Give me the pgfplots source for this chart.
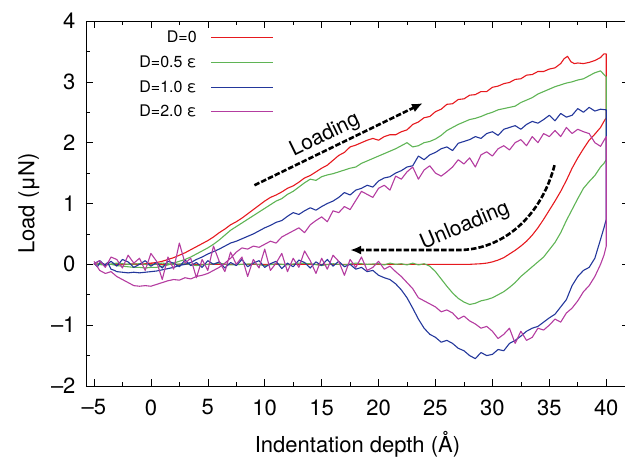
\documentclass[border=0pt]{standalone}
\usepackage{pgfplots}
\pgfplotsset{compat=1.18}
\usepackage{fontspec}
\setmainfont{TeX Gyre Heros}
\usetikzlibrary{arrows.meta}
\definecolor{cred}{RGB}{230,25,30}
\definecolor{cgreen}{RGB}{95,180,85}
\definecolor{cblue}{RGB}{35,55,155}
\definecolor{cmag}{RGB}{180,60,160}
\begin{document}
\begin{tikzpicture}
\useasboundingbox (-86pt,-72pt) rectangle (539pt,386pt);
\begin{axis}[
  at={(0pt,0pt)}, anchor=south west,
  scale only axis, width=543pt, height=365pt,
  xmin=-5.7, xmax=42, ymin=-2, ymax=4,
  xtick={-5,0,...,40}, xticklabels={–5,0,5,10,15,20,25,30,35,40},
  ytick={-2,-1,...,4}, yticklabels={–2,–1,0,1,2,3,4},
  minor x tick num=1, minor y tick num=1,
  tick align=inside, major tick length=7pt, minor tick length=4pt,
  tick style={black, line width=0.6pt},
  axis line style={line width=0.8pt},
  ticklabel style={font=\fontsize{22}{26}\selectfont},
  xticklabel style={yshift=-10pt},
  yticklabel style={xshift=-7pt},
  xlabel={Indentation depth (Å)},
  ylabel={Load (μN)},
  every axis x label/.style={at={(axis description cs:0.5,-0.159)}, anchor=center, font=\fontsize{22}{26}\selectfont},
  every axis y label/.style={at={(axis description cs:-0.105,0.5)}, rotate=90, anchor=center, font=\fontsize{22}{26}\selectfont},
  legend cell align=right, legend plot pos=right,
  legend image code/.code={\draw[#1, line width=1.1pt] (0pt,0pt) -- (62pt,0pt);},
  legend style={draw=none, fill=none, font=\fontsize{16}{18}\selectfont,
    at={(axis description cs:0.3462,0.9726)}, anchor=north east,
    inner sep=0pt, row sep=11.5pt, column sep=14pt, nodes={inner sep=0pt}},
  every axis plot/.append style={line width=1.1pt, line join=round},
]
% D = 0 : loading, drop at 40, unloading
\addplot[cred] coordinates {
(-5,0.00)(-4.5,0.01)(-4,0.00)(-3.5,0.00)(-3,0.01)(-2.5,0.00)(-2,0.00)(-1.5,0.01)(-1,0.00)(-0.5,0.01)
(0,0.02)(0.5,0.03)(1,0.05)(1.5,0.08)(2,0.11)(2.5,0.15)(3,0.19)(3.5,0.24)(4,0.29)(4.5,0.34)
(5,0.39)(5.5,0.45)(6,0.52)(6.5,0.58)(7,0.65)(7.5,0.70)(8,0.76)(8.5,0.83)(9,0.90)(9.5,0.97)
(10,1.04)(10.5,1.10)(11,1.14)(11.5,1.19)(12,1.25)(12.5,1.29)(13,1.35)(13.5,1.42)(14,1.46)(14.5,1.52)
(15,1.58)(15.5,1.63)(16,1.71)(16.5,1.79)(17,1.84)(17.5,1.93)(18,1.96)(18.5,2.00)(19,2.04)(19.5,2.07)
(20,2.04)(20.5,2.10)(21,2.13)(21.5,2.13)(22,2.18)(22.5,2.21)(23,2.30)(23.5,2.34)(24,2.41)(24.5,2.43)
(25,2.51)(25.5,2.55)(26,2.63)(26.5,2.64)(27,2.71)(27.5,2.72)(28,2.78)(28.5,2.79)(29,2.84)(29.5,2.84)
(30,2.91)(30.5,2.93)(31,2.97)(31.5,2.99)(32,3.04)(32.5,3.05)(33,3.11)(33.5,3.12)(34,3.17)(34.5,3.17)
(35,3.21)(35.5,3.23)(36,3.30)(36.3,3.38)(36.6,3.42)(36.9,3.33)(37.2,3.30)(37.5,3.31)(38,3.30)(38.5,3.32)
(39,3.35)(39.5,3.40)(39.8,3.46)(40,3.46)
(40,2.41)(39.8,2.35)(39.5,2.25)(39,2.14)(38.5,2.04)(38,1.90)(37.5,1.75)(37,1.58)(36.5,1.38)(36,1.20)
(35.5,1.04)(35,0.89)(34.5,0.74)(34,0.60)(33.5,0.48)(33,0.38)(32.5,0.30)(32,0.23)(31.5,0.17)(31,0.11)
(30.5,0.07)(30,0.04)(29.5,0.02)(29,0.01)(28,0.00)(-5,0.00)
};
\addlegendentry{D=0}
% D = 0.5 eps
\addplot[cgreen] coordinates {
(-5,0.00)(-4.5,0.01)(-4,-0.01)(-3.5,0.00)(-3,-0.02)(-2.5,-0.03)(-2,-0.04)(-1.5,-0.05)(-1,-0.05)(-0.5,-0.06)
(0,-0.05)(0.5,-0.05)(1,-0.03)(1.5,-0.01)(2,0.02)(2.5,0.05)(3,0.08)(3.5,0.12)(4,0.17)(4.5,0.22)
(5,0.27)(5.5,0.33)(6,0.40)(6.5,0.48)(7,0.56)(7.5,0.62)(8,0.68)(8.5,0.74)(9,0.80)(9.5,0.86)
(10,0.92)(10.5,0.98)(11,1.04)(11.5,1.08)(12,1.15)(12.5,1.20)(13,1.27)(13.5,1.34)(14,1.40)(14.5,1.38)
(15,1.44)(15.5,1.47)(16,1.49)(16.5,1.52)(17,1.55)(17.5,1.58)(18,1.60)(18.5,1.66)(19,1.70)(19.5,1.74)
(20,1.78)(20.5,1.82)(21,1.86)(21.5,1.90)(22,1.95)(22.5,2.00)(23,1.93)(23.5,1.95)(24,2.00)(24.5,2.02)
(25,2.06)(25.5,2.12)(26,2.20)(26.5,2.25)(27,2.30)(27.5,2.34)(28,2.38)(28.5,2.40)(29,2.43)(29.5,2.47)
(30,2.50)(30.5,2.54)(31,2.56)(31.5,2.58)(32,2.60)(32.5,2.66)(33,2.70)(33.5,2.74)(34,2.80)(34.5,2.84)
(35,2.88)(35.5,2.92)(36,2.95)(36.5,2.98)(37,3.00)(37.5,3.03)(38,3.05)(38.5,3.10)(39,3.15)(39.5,3.18)
(39.8,3.12)(40,3.08)
(40,1.72)(39.8,1.66)(39.5,1.60)(39,1.46)(38.5,1.36)(38,1.25)(37.5,1.08)(37,0.90)(36.5,0.72)(36,0.52)
(35.5,0.36)(35,0.24)(34.5,0.12)(34,0.04)(33.5,-0.04)(33,-0.12)(32.5,-0.20)(32,-0.30)(31.5,-0.38)(31,-0.45)
(30.5,-0.50)(30,-0.55)(29.5,-0.58)(29,-0.60)(28.5,-0.64)(28,-0.66)(27.5,-0.62)(27,-0.56)(26.5,-0.47)(26,-0.36)
(25.5,-0.24)(25,-0.12)(24.5,-0.03)(24,0.01)(23.5,-0.01)(23,0.02)(22.5,-0.01)(22,0.01)(21.5,0.00)(21,0.02)
(20.5,-0.01)(20,0.01)(19,0.00)(18,0.02)(17,-0.01)(16,0.01)(15,-0.02)(14,0.01)(13,0.02)(12,-0.01)
(11,0.01)(10,-0.02)(9,0.01)(8,0.00)(7,-0.01)(6,0.02)(5,0.00)(4,-0.02)(3,0.01)(2,0.00)
(1,0.02)(0,-0.01)(-1,0.01)(-2,0.00)(-3,0.02)(-4,-0.01)(-5,0.00)
};
\addlegendentry{D=0.5 ε}
% D = 1.0 eps
\addplot[cblue] coordinates {
(-5,0.02)(-4.7,-0.04)(-4.4,0.05)(-4.1,-0.02)(-3.8,0.03)(-3.5,-0.08)(-3.2,-0.10)(-3,-0.12)(-2.5,-0.13)(-2,-0.14)
(-1.5,-0.13)(-1,-0.14)(-0.5,-0.13)(0,-0.12)(0.5,-0.11)(1,-0.09)(1.5,-0.07)(2,-0.05)(2.5,-0.02)(3,0.00)
(3.5,0.03)(4,0.08)(4.5,0.12)(5,0.17)(5.5,0.21)(6,0.25)(6.5,0.30)(7,0.35)(7.5,0.38)(8,0.42)
(8.5,0.46)(9,0.50)(9.5,0.55)(10,0.60)(10.5,0.64)(11,0.69)(11.5,0.72)(12,0.79)(12.5,0.85)(13,0.82)
(13.5,0.88)(14,0.93)(14.5,0.89)(15,0.95)(15.5,1.00)(16,1.04)(16.5,1.10)(17,1.18)(17.5,1.14)(18,1.22)
(18.5,1.25)(19,1.30)(19.5,1.27)(20,1.37)(20.5,1.42)(21,1.44)(21.5,1.50)(22,1.54)(22.5,1.60)(23,1.62)
(23.5,1.78)(24,1.72)(24.5,1.80)(25,1.84)(25.5,1.90)(26,1.93)(26.5,1.87)(27,1.99)(27.5,2.02)(28,2.05)
(28.5,2.10)(29,2.07)(29.5,2.15)(30,2.18)(30.5,2.12)(31,2.22)(31.5,2.25)(32,2.28)(32.5,2.22)(33,2.30)
(33.5,2.35)(34,2.32)(34.5,2.38)(35,2.45)(35.5,2.36)(36,2.48)(36.5,2.42)(37,2.45)(37.5,2.56)(38,2.50)
(38.5,2.58)(39,2.52)(39.5,2.55)(40,2.54)
(40,0.74)(39.8,0.60)(39.5,0.41)(39,0.10)(38.5,-0.05)(38,-0.10)(37.5,-0.20)(37,-0.35)(36.5,-0.58)(36,-0.70)
(35.5,-0.82)(35,-0.88)(34.5,-0.95)(34,-1.02)(33.5,-1.05)(33,-1.10)(32.5,-1.18)(32,-1.25)(31.5,-1.30)(31,-1.42)
(30.5,-1.40)(30,-1.48)(29.5,-1.50)(29,-1.45)(28.5,-1.55)(28,-1.50)(27.5,-1.42)(27,-1.38)(26.5,-1.30)(26,-1.25)
(25.5,-1.28)(25,-1.20)(24.5,-1.15)(24,-1.05)(23.5,-0.90)(23,-0.72)(22.5,-0.55)(22,-0.42)(21.5,-0.32)(21,-0.25)
(20.5,-0.22)(20,-0.18)(19.5,-0.10)(19,-0.12)(18.5,-0.05)(18,-0.08)(17.5,0.00)(17,-0.04)(16.5,0.05)(16,-0.03)
(15.5,0.08)(15,-0.02)(14.5,0.04)(14,-0.06)(13.5,0.03)(13,0.07)(12.5,-0.04)(12,0.02)(11.5,-0.07)(11,0.05)
(10.5,0.01)(10,-0.05)(9.5,0.06)(9,0.02)(8.5,-0.04)(8,0.08)(7.5,-0.02)(7,0.03)(6.5,-0.06)(6,0.04)
(5.5,0.00)(5,0.06)(4.5,-0.05)(4,0.03)(3.5,-0.02)(3,0.07)(2.5,-0.04)(2,0.02)(1.5,0.05)(1,-0.06)
(0.5,0.03)(0,-0.03)(-0.5,0.06)(-1,0.00)(-1.5,-0.05)(-2,0.04)(-2.5,0.08)(-3,-0.03)(-3.5,0.05)(-4,-0.02)
(-4.5,0.06)(-5,0.01)
};
\addlegendentry{D=1.0 ε}
% D = 2.0 eps
\addplot[cmag] coordinates {
(-5,0.05)(-4.5,-0.10)(-4,-0.15)(-3.5,-0.12)(-3,-0.20)(-2.5,-0.25)(-2,-0.30)(-1.5,-0.35)(-1,-0.36)(-0.5,-0.35)
(0,-0.36)(0.5,-0.33)(1,-0.30)(1.5,-0.27)(2,-0.25)(2.5,-0.26)(3,-0.22)(3.5,-0.24)(4,-0.20)(4.5,-0.18)
(5,-0.15)(5.5,-0.10)(6,-0.05)(6.5,0.02)(7,0.10)(7.5,0.20)(8,0.27)(8.5,0.25)(9,0.30)(9.5,0.28)
(10,0.33)(10.5,0.38)(11,0.35)(11.5,0.45)(12,0.50)(12.5,0.55)(13,0.60)(13.5,0.52)(14,0.65)(14.5,0.72)
(15,0.78)(15.5,0.70)(16,0.88)(16.5,0.85)(17,0.95)(17.5,0.90)(18,1.05)(18.5,1.20)(19,1.15)(19.5,1.10)
(20,1.25)(20.5,1.30)(21,1.22)(21.5,1.45)(22,1.40)(22.5,1.52)(23,1.60)(23.5,1.40)(24,1.55)(24.5,1.62)
(25,1.50)(25.5,1.45)(26,1.52)(26.5,1.60)(27,1.72)(27.5,1.65)(28,1.75)(28.5,1.60)(29,1.80)(29.5,1.85)
(30,1.78)(30.5,1.90)(31,1.95)(31.5,1.88)(32,2.00)(32.5,2.05)(33,1.95)(33.5,2.10)(34,2.00)(34.5,2.15)
(35,2.10)(35.5,2.20)(36,2.10)(36.5,2.25)(37,2.15)(37.5,2.22)(38,2.18)(38.5,2.15)(39,2.00)(39.5,1.94)
(40,2.10)
(40,0.30)(39.8,0.15)(39.5,0.00)(39,-0.20)(38.5,-0.35)(38,-0.45)(37.5,-0.60)(37,-0.72)(36.5,-0.80)(36,-0.95)
(35.5,-0.90)(35,-1.00)(34.5,-1.08)(34,-1.05)(33.5,-1.20)(33,-1.25)(32.5,-1.10)(32,-1.30)(31.5,-1.05)(31,-1.15)
(30.5,-1.22)(30,-1.10)(29.5,-1.02)(29,-1.05)(28.5,-0.98)(28,-0.93)(27.5,-0.85)(27,-0.90)(26.5,-0.80)(26,-0.75)
(25.5,-0.78)(25,-0.70)(24.5,-0.65)(24,-0.60)(23.5,-0.55)(23,-0.40)(22.5,-0.30)(22,-0.20)(21.5,-0.12)(21,-0.03)
(20.5,-0.08)(20,0.05)(19.5,-0.05)(19,-0.10)(18.5,0.12)(18,-0.05)(17.5,0.08)(17,-0.18)(16.5,0.05)(16,0.15)
(15.5,-0.08)(15,0.10)(14.5,-0.15)(14,0.06)(13.5,0.22)(13,-0.05)(12.5,0.10)(12,-0.12)(11.5,0.18)(11,0.02)
(10.5,-0.10)(10,0.25)(9.5,-0.06)(9,0.08)(8.5,-0.20)(8,0.12)(7.5,0.00)(7,0.20)(6.5,-0.12)(6,0.05)
(5.5,0.30)(5,-0.10)(4.5,0.08)(4,-0.22)(3.5,0.10)(3,0.02)(2.5,0.35)(2,-0.08)(1.5,0.12)(1,-0.25)
(0.5,0.05)(0,0.18)(-0.5,-0.10)(-1,0.10)(-1.5,0.02)(-2,0.15)(-2.5,-0.06)(-3,0.08)(-3.5,0.12)(-4,-0.05)
(-4.5,0.06)(-5,0.00)
};
\addlegendentry{D=2.0 ε}
% annotations
\draw[black, line width=2.6pt, dash pattern=on 5.5pt off 2pt, -{Latex[length=11pt,width=9pt]}]
  (axis cs:9.1,1.30) -- (axis cs:23.9,2.65);
\node[rotate=26, font=\fontsize{21}{24}\selectfont] at (axis cs:15.3,2.12) {Loading};
\draw[black, line width=2.6pt, dash pattern=on 5.5pt off 2pt, -{Latex[length=11pt,width=9pt]}]
  (axis cs:35.46,1.63) .. controls (axis cs:34.3,0.80) and (axis cs:31,0.235) .. (axis cs:27,0.235) -- (axis cs:17.5,0.235);
\node[rotate=23, font=\fontsize{21}{24}\selectfont] at (axis cs:27.6,0.63) {Unloading};
\end{axis}
\end{tikzpicture}
\end{document}
